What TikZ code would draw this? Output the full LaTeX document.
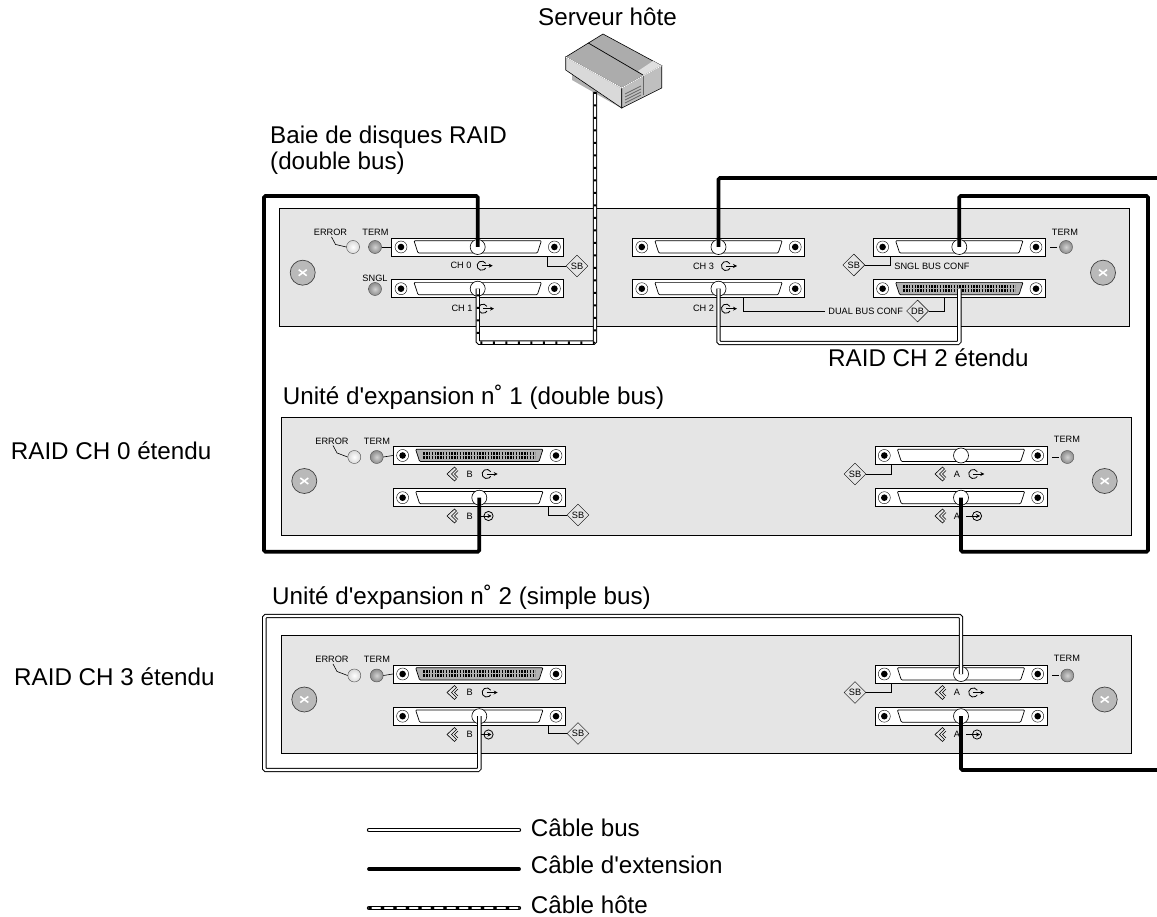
\documentclass[tikz,border=0pt]{standalone}
\usepackage{fontspec}
\setmainfont{Liberation Sans}[Ligatures=TeXOff]
\usetikzlibrary{arrows.meta,positioning,shapes.geometric}
\definecolor{panelgray}{HTML}{E5E5E5}
\tikzset{
  >={Stealth[length=4pt,width=4pt]},
  panel/.style={draw, rectangle, fill=panelgray, line width=0.8pt, minimum width=850pt, minimum height=118pt, inner sep=0},
  bar/.style={draw, rectangle, fill=white, line width=0.8pt, minimum width=172pt, minimum height=18pt, inner sep=0},
  hole/.style={draw, circle, fill=white, line width=0.6pt, minimum size=15pt, inner sep=0},
  screw/.style={draw=black!75, circle, fill=gray!55, line width=0.7pt, minimum size=25pt, inner sep=0},
  led/.style={draw=black!70, circle, shading=radial, inner color=gray!35, outer color=gray!90, minimum size=13pt, inner sep=0},
  ledoff/.style={led, inner color=white, outer color=gray!30},
  tiny/.style={font=\fontsize{9.2}{11}\selectfont, inner sep=0},
  lbl/.style={font=\fontsize{24.2}{25.5}\selectfont, inner sep=0, anchor=west, align=left},
  conf/.style={draw, diamond, aspect=1, fill=panelgray, font=\fontsize{9.2}{11}\selectfont, inner sep=0, minimum size=22pt},
  tie/.style={line width=0.6pt},
  buscable/.style={draw=black, line width=4.4pt, rounded corners=1.5pt, postaction={draw=white, line width=2.4pt}},
  extcable/.style={draw=black, line width=3.8pt, rounded corners=1.5pt},
  hostcable/.style={buscable, postaction={draw=black, line width=2.4pt, dash pattern=on 2pt off 10.5pt}},
  pics/scsi/.style={code={
    \node[bar] (-bar) {};
    \draw[fill=white] (-76.7,0) circle (6);
    \fill (-76.7,0) circle (3.3);
    \draw[fill=white] (76.7,0) circle (6);
    \fill (76.7,0) circle (3.3);
    \draw[line width=0.7pt, rounded corners=1pt] (-63.7,-6.3) -- (-59.7,6) -- (59.7,6) -- (63.7,-6.3) -- cycle;
    \node[hole] (-hole) {};
  }},
  pics/scsipin/.style={code={
    \node[bar] (-bar) {};
    \draw[fill=white] (-76.7,0) circle (6);
    \fill (-76.7,0) circle (3.3);
    \draw[fill=white] (76.7,0) circle (6);
    \fill (76.7,0) circle (3.3);
    \draw[fill=gray!60, line width=0.7pt, rounded corners=1pt] (-63.7,-6.3) -- (-59.7,6) -- (59.7,6) -- (63.7,-6.3) -- cycle;
    \draw[line width=2.8pt, dash pattern=on 1.5pt off 1.3pt] (-56,-2.4) -- (56,-2.4);
    \draw[line width=2.8pt, dash pattern=on 1.5pt off 1.3pt] (-56,1.6) -- (56,1.6);
    \coordinate (-hole) at (0,0);
  }},
  pics/portout/.style={code={
    \draw[line width=0.8pt] (-30:4.6) arc (-30:-330:4.6);
    \draw[->, line width=0.8pt] (0,0) -- (11,0);
  }},
  pics/portin/.style={code={
    \draw[line width=0.8pt] (0,0) circle (4.6);
    \draw[->, line width=0.8pt] (-11,0) -- (3,0);
  }},
  pics/chevron/.style={code={
    \draw[line width=0.6pt] (4.5,-7) -- (-3,0) -- (4.5,7) -- (6.5,5) -- (1.5,0) -- (6.5,-5) -- cycle;
    \draw[line width=0.6pt] (8,-3.5) -- (4.5,0) -- (8,3.5);
  }},
}
\newcommand{\screwx}[1]{
  \draw[white, line width=1.6pt] ([shift={(-4,-3)}]#1.center) -- ([shift={(4,3)}]#1.center);
  \draw[white, line width=1.6pt] ([shift={(-4,3)}]#1.center) -- ([shift={(4,-3)}]#1.center);
}
\begin{document}
\begin{tikzpicture}[x=1pt, y=-1pt]
  \useasboundingbox (0,0) rectangle (1157,917);
  % titles
  \node[lbl] (host) at (538,17) {Serveur hôte};
  \node[lbl] (baie) at (270,150) {Baie de disques RAID\\(double bus)};
  \node[lbl] (unit1) at (282.7,397) {Unité d'expansion n˚ 1 (double bus)};
  \node[lbl] (unit2) at (272,597) {Unité d'expansion n˚ 2 (simple bus)};
  \node[lbl] (ext0) at (10.7,451) {RAID CH 0 étendu};
  \node[lbl] (ext3) at (14,677) {RAID CH 3 étendu};
  \node[lbl] (ext2) at (828,358) {RAID CH 2 étendu};
  % server
  \fill[gray!60] (572,72) -- (572,80) -- (621,108) -- (621,95) -- cycle;
  \draw[fill=gray!65, line width=0.6pt] (603,34) -- (565.7,57) -- (621.7,88) -- (661.7,65.7) -- cycle;
  \fill[gray!25] (643,76) -- (661.7,65.7) -- (653,61) -- (638,71) -- cycle;
  \draw[fill=gray!30, line width=0.6pt] (565.7,57) -- (565.7,70) -- (621.7,108) -- (621.7,88) -- cycle;
  \draw[fill=gray!50, line width=0.6pt] (621.7,88) -- (661.7,65.7) -- (661.7,88) -- (621.7,108) -- cycle;
  \draw[line width=0.7pt] (588.3,43) -- (643,75);
  \draw[white, line width=0.8pt] (565.7,57) -- (621.7,88) -- (661.7,65.7);
  \foreach \r in {94,97,100,103} {
    \draw[black!60, line width=0.8pt] (625,\r) -- (641,\r-8);
  }
  \draw[black!60, line width=0.7pt] (643,76) -- (643,95);
  \coordinate (srv) at (595,92);
  % RAID array
  \node[panel] (raid) at (704,267) {};
  \node[screw] (raidsl) at (302.7,272.7) {};
  \node[screw] (raidsr) at (1103,272.7) {};
  \screwx{raidsl}
  \screwx{raidsr}
  \pic (ch0) at (477.7,247) {scsi};
  \pic (ch1) at (477.7,288.7) {scsi};
  \pic (ch3) at (718.5,247) {scsi};
  \pic (ch2) at (718.5,288.7) {scsi};
  \pic (sngl) at (959.3,247) {scsi};
  \pic (dual) at (959.3,288.7) {scsipin};
  \node[ledoff] (errled) at (353,247) {};
  \node[led] (termled) at (375,247) {};
  \node[led] (sglled) at (375,289) {};
  \node[led] (termledr) at (1066,247) {};
  \node[tiny] (errtxt) at (330.5,232.5) {ERROR};
  \node[tiny] (termtxt) at (375.5,232.5) {TERM};
  \node[tiny] (sgltxt) at (375,278) {SNGL};
  \node[tiny] (termtxtr) at (1065,232) {TERM};
  \node[tiny] (ch0txt) at (461,265.7) {CH 0};
  \node[tiny] (ch1txt) at (462,308.7) {CH 1};
  \node[tiny] (ch3txt) at (703.5,266) {CH 3};
  \node[tiny] (ch2txt) at (703.5,308.7) {CH 2};
  \node[tiny] (sngltxt) at (932,266) {SNGL BUS CONF};
  \node[tiny] (dualtxt) at (865.7,311) {DUAL BUS CONF};
  \pic at (481.7,265.7) {portout};
  \pic at (483,308.7) {portout};
  \pic at (726,266) {portout};
  \pic at (726,308.7) {portout};
  \node[conf] (sbch0) at (577,266) {SB};
  \node[conf] (sbsngl) at (853.8,265) {SB};
  \node[conf] (dbdual) at (917.6,311) {DB};
  \draw[tie] (errtxt.south) ++(1,1) -- ++(4,7.5) -- (errled.west);
  \draw[tie] (termled.east) -- (ch0-bar.west);
  \draw[tie] (termledr.west) ++(-2,0) -- ++(-7,0);
  \draw[tie] (sbch0.west) -| ([xshift=69.3pt]ch0-bar.south);
  \draw[tie] (sbsngl.east) -| ([xshift=-69.3pt]sngl-bar.south);
  \draw[tie] (dbdual.east) -| ([xshift=-15pt]dual-bar.south);
  \draw[tie] (dualtxt.west) ++(-3,0) -| ([xshift=24.5pt]ch2-bar.south);
  % expansion units
  \foreach \u/\y in {1/476,2/694.5} {
    \node[panel] (unit\u) at (706,\y) {};
    \node[screw] (unit\u sl) at (304.3,\y+5) {};
    \node[screw] (unit\u sr) at (1104.7,\y+5) {};
    \screwx{unit\u sl}
    \screwx{unit\u sr}
    \pic (b\u out) at (479.3,\y-20.5) {scsipin};
    \pic (b\u in) at (479.3,\y+21.7) {scsi};
    \pic (a\u out) at (961,\y-20.5) {scsi};
    \pic (a\u in) at (961,\y+21.7) {scsi};
    \node[ledoff] (err\u led) at (354.3,\y-19) {};
    \node[led] (term\u led) at (376.7,\y-19) {};
    \node[led] (term\u ledr) at (1067.3,\y-19) {};
    \node[tiny] (err\u txt) at (332,\y-35) {ERROR};
    \node[tiny] (term\u txt) at (377,\y-35) {TERM};
    \node[tiny] (term\u txtr) at (1067,\y-36.5) {TERM};
    \node[tiny] (b\u txto) at (469.7,\y-2) {B};
    \node[tiny] (b\u txti) at (469.7,\y+40) {B};
    \node[tiny] (a\u txto) at (957,\y-2) {A};
    \node[tiny] (a\u txti) at (957,\y+40) {A};
    \pic at (450,\y-2) {chevron};
    \pic at (450,\y+40) {chevron};
    \pic at (938,\y-2) {chevron};
    \pic at (938,\y+40) {chevron};
    \pic at (486.7,\y-2) {portout};
    \pic at (488.5,\y+40) {portin};
    \pic at (973.3,\y-2) {portout};
    \pic at (977,\y+40) {portin};
    \node[conf] (sb\u b) at (578,\y+39) {SB};
    \node[conf] (sb\u a) at (855,\y-2) {SB};
    \draw[tie] (err\u txt.south) ++(1,1) -- ++(4,7.5) -- (err\u led.west);
    \draw[tie] (term\u led.east) -- (b\u out-bar.west);
    \draw[tie] (term\u ledr.west) ++(-2,0) -- ++(-7,0);
    \draw[tie] (sb\u b.west) -| ([xshift=69.3pt]b\u in-bar.south);
    \draw[tie] (sb\u a.east) -| ([xshift=-69.3pt]a\u out-bar.south);
  }
  % cables
  \coordinate (hostdn) at (595,342.7);
  \draw[hostcable] (srv) -- (hostdn) -| (ch1-hole.center);
  \coordinate (ext0l) at (264,551.7);
  \coordinate (ext0t) at (264,196);
  \draw[extcable] (ch0-hole.center) |- (ext0t) -- (ext0l) -| (b1in-hole.center);
  \coordinate (ext3r) at (1157,178);
  \draw[extcable] (ch3-hole.center) |- (ext3r);
  \coordinate (ext1t) at (1148,196);
  \coordinate (ext1b) at (1148,551.7);
  \draw[extcable] (sngl-hole.center) |- (ext1t) -- (ext1b) -| (a1in-hole.center);
  \coordinate (exp2r) at (1157,770);
  \draw[extcable] (a2in-hole.center) |- (exp2r);
  \coordinate (busdn) at (718.5,343);
  \draw[buscable] (ch2-hole.center) |- (busdn) -| (dual-hole.center);
  \coordinate (loopb) at (264.3,770);
  \coordinate (loopt) at (264.3,616);
  \draw[buscable] (b2in-hole.center) |- (loopb) -- (loopt) -| (a2out-hole.center);
  % legend
  \node[lbl] (lgbus) at (530.7,828) {Câble bus};
  \node[lbl] (lgext) at (530.7,865) {Câble d'extension};
  \node[lbl] (lghost) at (530.7,905) {Câble hôte};
  \coordinate (lgbuss) at (369,830);
  \coordinate (lgexts) at (369,869);
  \coordinate (lghosts) at (369,908);
  \draw[buscable, line cap=round] (lgbuss) -- ([xshift=-11.7pt]lgbus.west |- lgbuss);
  \draw[extcable, line cap=round] (lgexts) -- ([xshift=-11.7pt]lgext.west |- lgexts);
  \draw[hostcable, line cap=round] (lghosts) -- ([xshift=-11.7pt]lghost.west |- lghosts);
\end{tikzpicture}
\end{document}
